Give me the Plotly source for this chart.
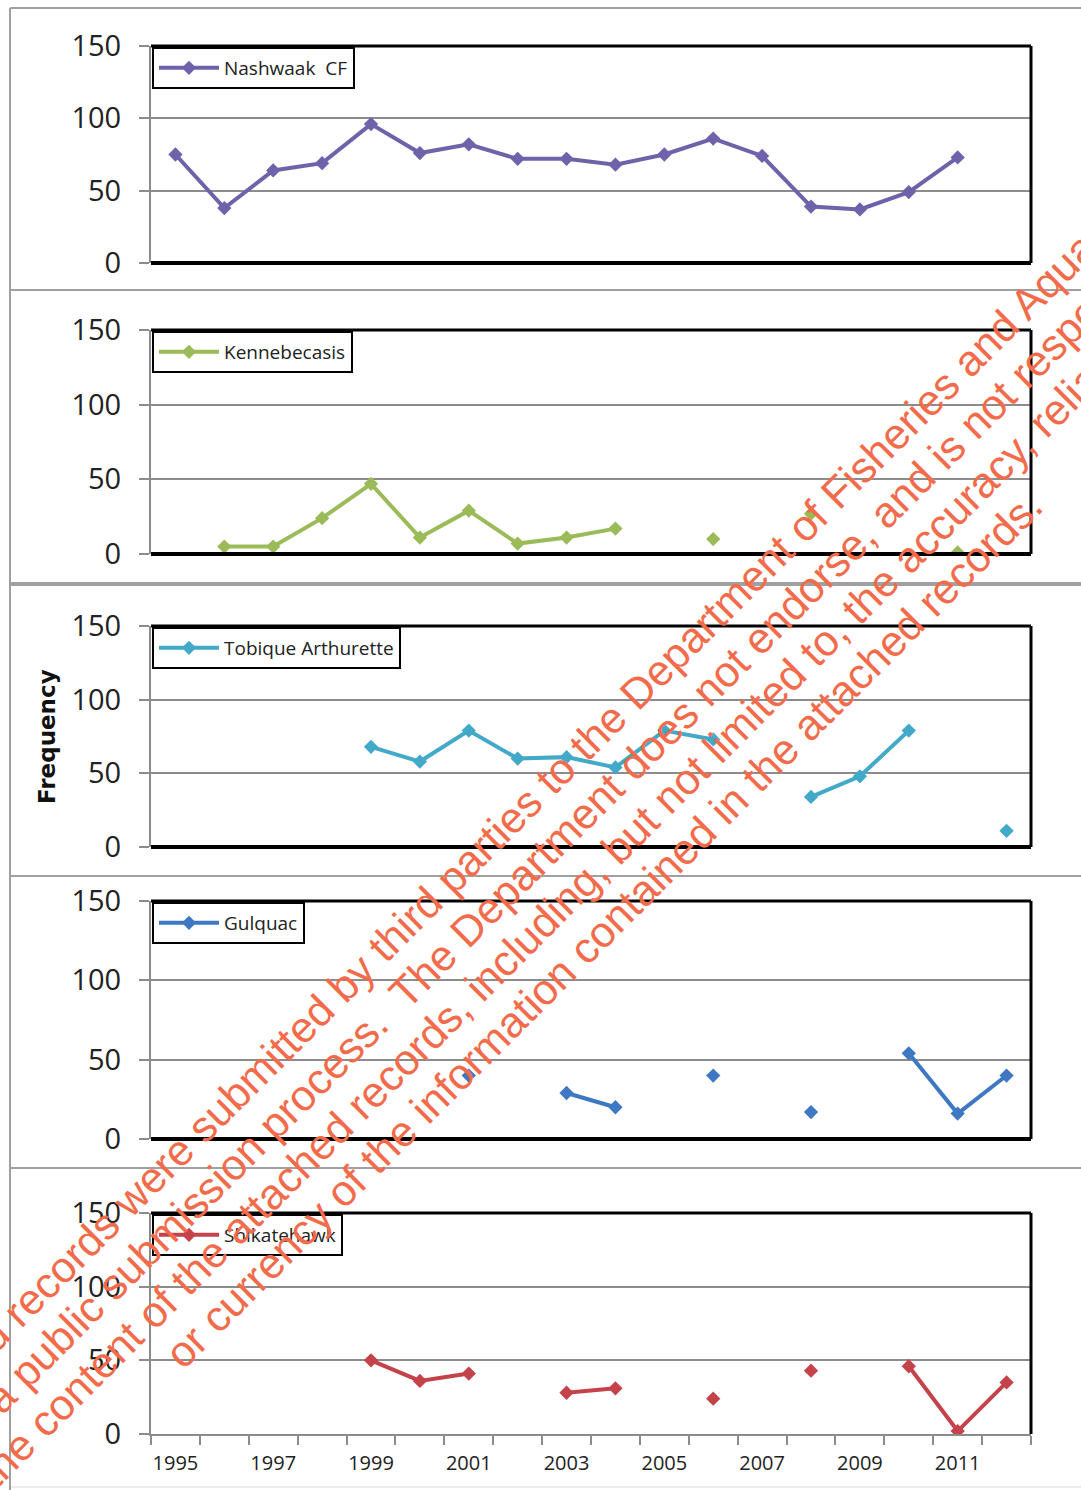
import math
import plotly.graph_objects as go

W, H = 1081, 1490

years = list(range(1995, 2013))

nashwaak = [75, 38, 64, 69, 96, 76, 82, 72, 72, 68, 75, 86, 74, 39, 37, 49, 73, None]
kennebecasis = [None, 5, 5, 24, 47, 11, 29, 7, 11, 17, None, 10, None, 27, None, None, 1, None]
tobique = [None, None, None, None, 68, 58, 79, 60, 61, 54, 79, 73, None, 34, 48, 79, None, 11]
gulquac = [None, None, None, None, None, None, 40, None, 29, 20, None, 40, None, 17, None, 54, 16, 40]
shikatehawk = [None, None, None, None, 50, 36, 41, None, 28, 31, None, 24, None, 43, None, 46, 2, 35]

series_names = ["Nashwaak  CF", "Kennebecasis", "Tobique Arthurette", "Gulquac", "Shikatehawk"]
series_values = [nashwaak, kennebecasis, tobique, gulquac, shikatehawk]
series_colors = ["#7062AA", "#9BBB59", "#42A9C9", "#3F78C2", "#C4434A"]

y_ticks = [0, 50, 100, 150]
x_tick_years = [1995, 1997, 1999, 2001, 2003, 2005, 2007, 2009, 2011]
y_title = "Frequency"

watermark_lines = [
    "The attached records were submitted by third parties to the Department of Fisheries and Aquaculture",
    "as part of a public submission process.  The Department does not endorse, and is not responsible for",
    "the content of the attached records, including, but not limited to, the accuracy, reliability",
    "or currency of the information contained in the attached records.",
]

# panel pixel extents (top, bottom) of plot areas
panel_px = [(46, 263), (330, 554), (626, 847), (901, 1139), (1213, 1434)]
plot_left, plot_right = 151, 1031


def px(p):
    return p / W


def py(p):
    return 1 - p / H


fig = go.Figure()
layout = dict(
    width=W, height=H,
    margin=dict(l=0, r=0, t=0, b=0, autoexpand=False),
    paper_bgcolor="white", plot_bgcolor="white",
    showlegend=True,
    font=dict(family="Open Sans, Lato, sans-serif", color="#222222"),
)

shapes = []
n = len(series_names)
for i in range(n):
    k = i + 1
    xs = "" if k == 1 else str(k)
    top, bot = panel_px[i]
    legend_id = "legend" if k == 1 else f"legend{k}"
    fig.add_trace(go.Scatter(
        x=years, y=series_values[i], name=series_names[i],
        mode="lines+markers", connectgaps=False,
        line=dict(color=series_colors[i], width=4),
        marker=dict(symbol="diamond", size=11, color=series_colors[i]),
        xaxis=f"x{xs}", yaxis=f"y{xs}", legend=legend_id,
    ))
    is_last = (k == n)
    xa = dict(
        domain=[px(plot_left), px(plot_right)], range=[1994.5, 2012.5],
        anchor=f"y{xs}", showgrid=False, zeroline=False,
        tickmode="array", tickvals=x_tick_years,
        ticktext=[str(v) for v in x_tick_years],
        showticklabels=is_last, ticks="",
        tickfont=dict(size=20, color="#222222", family="Open Sans, sans-serif"),
        ticklabelstandoff=10,
        showline=is_last, linecolor="#8c8c8c", linewidth=2,
        automargin=False, fixedrange=True,
    )
    if is_last:
        xa["minor"] = dict(ticks="outside", tickmode="linear", tick0=1994.5, dtick=1,
                           ticklen=9, tickwidth=2, tickcolor="#8c8c8c", showgrid=False)
    layout[f"xaxis{xs}"] = xa
    layout[f"yaxis{xs}"] = dict(
        domain=[py(bot), py(top)], range=[0, 150], anchor=f"x{xs}",
        tickmode="array", tickvals=y_ticks,
        showgrid=True, gridcolor="#8c8c8c", gridwidth=2, zeroline=False,
        showline=True, linecolor="#8c8c8c", linewidth=2,
        ticks="outside", ticklen=10, tickwidth=2, tickcolor="#8c8c8c",
        tickfont=dict(size=29, color="#222222", family="Open Sans, sans-serif"),
        ticklabelstandoff=12,
        automargin=False, fixedrange=True,
    )
    layout[legend_id] = dict(
        x=px(plot_left + 1), y=py(top + 1), xanchor="left", yanchor="top",
        bgcolor="white", bordercolor="black", borderwidth=2,
        font=dict(size=19, color="#222222", family="Open Sans, sans-serif"),
        itemwidth=60, tracegroupgap=0,
    )
    # black frame: top, right, bottom(for upper panels)
    shapes.append(dict(type="line", xref=f"x{xs} domain", yref=f"y{xs} domain",
                       x0=0, x1=1, y0=1, y1=1, line=dict(color="black", width=3), layer="above"))
    shapes.append(dict(type="line", xref=f"x{xs} domain", yref=f"y{xs} domain",
                       x0=1, x1=1, y0=0, y1=1, line=dict(color="black", width=3), layer="above"))
    if not is_last:
        shapes.append(dict(type="line", xref=f"x{xs} domain", yref=f"y{xs} domain",
                           x0=0, x1=1, y0=0, y1=0, line=dict(color="black", width=4), layer="above"))

# outer chart separators
for ypx, w in [(8, 2), (290, 2), (584, 4), (876, 2), (1168, 2), (1487, 1)]:
    shapes.append(dict(type="line", xref="paper", yref="paper",
                       x0=px(10), x1=1, y0=py(ypx), y1=py(ypx),
                       line=dict(color="#a0a0a0" if w > 1 else "#d8d8d8", width=w), layer="below"))
shapes.append(dict(type="line", xref="paper", yref="paper",
                   x0=px(10), x1=px(10), y0=py(8), y1=0,
                   line=dict(color="#a0a0a0", width=2), layer="below"))
layout["shapes"] = shapes

annotations = [
    dict(text=f"<b>{y_title}</b>", x=px(47), y=py(737), xref="paper", yref="paper",
         showarrow=False, textangle=-90, xanchor="center", yanchor="middle",
         font=dict(size=23, color="#111111", family="DejaVu Sans, Verdana, sans-serif")),
]
# watermark: four centred lines rotated 45 degrees
cx, cy, spacing = 553, 878, 48
nx = ny = math.sqrt(0.5)
for j, line in enumerate(watermark_lines):
    off = (j - 1.5) * spacing
    annotations.append(dict(
        text=line, x=px(cx + off * nx), y=py(cy + off * ny), xref="paper", yref="paper",
        showarrow=False, textangle=-45, xanchor="center", yanchor="middle",
        font=dict(size=43, color="#F26B4B", family="Liberation Sans, Arial, sans-serif"),
    ))
layout["annotations"] = annotations

fig.update_layout(**layout)
fig.write_html("out.html", config={"displayModeBar": False},
               post_script="document.body.style.margin='0';document.body.style.overflow='hidden';")
